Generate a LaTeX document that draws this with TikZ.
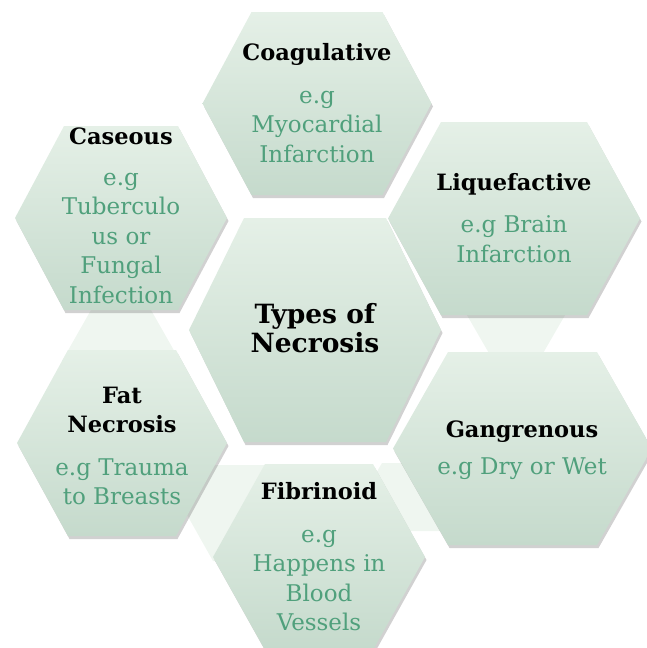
\documentclass[tikz,border=0pt]{standalone}
\usepackage{fontspec}
\setmainfont{DejaVu Serif}
\usepackage{tikz}
\usetikzlibrary{shadows}
\definecolor{hextop}  {RGB}{229,240,231}
\definecolor{hexbot}  {RGB}{197,218,204}
\definecolor{linkpale}{RGB}{239,246,240}
\definecolor{egtext}  {RGB}{80,160,124}
\tikzset{
  hexcell/.style ={top color=hextop, bottom color=hexbot, draw=none,
                   drop shadow={shadow xshift=1.5pt, shadow yshift=-3pt,
                                opacity=0.3, fill=black!60}},
  linkcell/.style={fill=linkpale, draw=none},
  hexlabel/.style={align=center, inner sep=0pt, text=egtext,
                   font=\fontsize{23}{29.5}\selectfont},
}
% flat-topped hexagon: style, cx, cy, half width, half top edge, half height
\newcommand{\hexcellat}[6]{%
  \path[#1] ({#2-#4},#3) -- ({#2-#5},{#3-#6}) -- ({#2+#5},{#3-#6})
    -- ({#2+#4},#3) -- ({#2+#5},{#3+#6}) -- ({#2-#5},{#3+#6}) -- cycle;}
\newcommand{\hextitle}[1]{{\color{black}\bfseries\fontsize{22.5}{29}\selectfont #1}}
\newcommand{\coretitle}[1]{{\color{black}\bfseries\fontsize{26.5}{30}\selectfont #1}}

\begin{document}
\begin{tikzpicture}[x=1pt,y=-1pt]
  \useasboundingbox (0,0) rectangle (647,648);
  % pale links between neighbouring cells
  \hexcellat{linkcell}{121}{361}{59}{30}{51}
  \hexcellat{linkcell}{516}{310}{52}{26}{45}
  \hexcellat{linkcell}{240}{513}{54}{27}{48}
  \hexcellat{linkcell}{412}{497}{50}{30}{34}
  % cells
  \hexcellat{hexcell}{315}{330}{126}{71}{112}
  \hexcellat{hexcell}{317}{103.5}{114.5}{65.5}{91.5}
  \hexcellat{hexcell}{514}{218.5}{126}{73}{96.5}
  \hexcellat{hexcell}{522.5}{448.5}{129.5}{74.5}{96.5}
  \hexcellat{hexcell}{319}{557}{106}{54}{93}
  \hexcellat{hexcell}{122}{443}{105}{54}{93}
  \hexcellat{hexcell}{121}{218}{106}{57}{92}
  % texts
  \node[hexlabel] (core) at (315,328) {\coretitle{Types of}\\\coretitle{Necrosis}};
  \node[hexlabel] (coag) at (317,103) {\hextitle{Coagulative}\\[13pt]e.g\\Myocardial\\Infarction};
  \node[hexlabel] (liq)  at (514,218) {\hextitle{Liquefactive}\\[13pt]e.g Brain\\Infarction};
  \node[hexlabel] (gang) at (522,450) {\hextitle{Gangrenous}\\[7pt]e.g Dry or Wet};
  \node[hexlabel] (fib)  at (319,557) {\hextitle{Fibrinoid}\\[13pt]e.g\\Happens in\\Blood\\Vessels};
  \node[hexlabel] (fat)  at (122,446) {\hextitle{Fat}\\\hextitle{Necrosis}\\[13pt]e.g Trauma\\to Breasts};
  \node[hexlabel] (cas)  at (121,216) {\hextitle{Caseous}\\[11pt]e.g\\Tuberculo\\us or\\Fungal\\Infection};
\end{tikzpicture}
\end{document}
